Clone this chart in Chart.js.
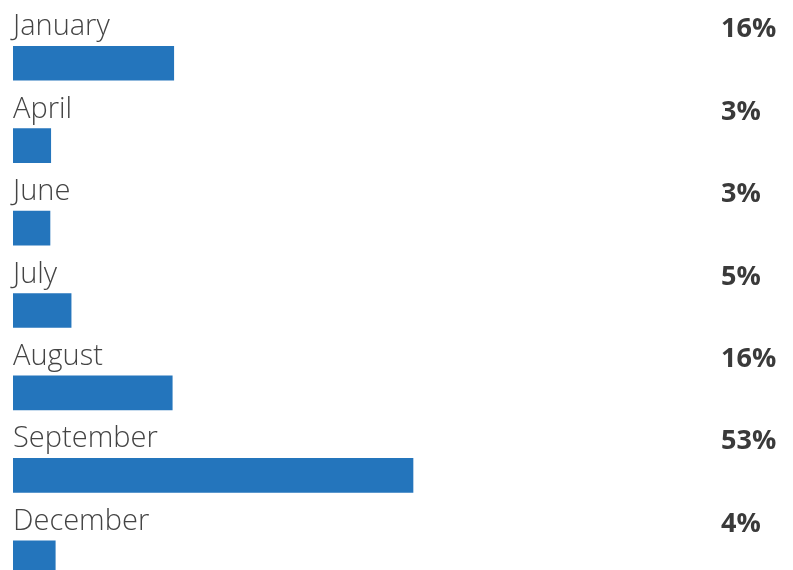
<!DOCTYPE html>
<html>
<head>
<meta charset="utf-8">
<script src="https://cdn.jsdelivr.net/npm/chart.js@4"></script>
<style>
  html, body { margin: 0; padding: 0; background: #fff; overflow: hidden; }
  #wrap { width: 793px; height: 570px; overflow: hidden; position: relative; }
  canvas { display: block; }
</style>
</head>
<body>
<div id="wrap"><canvas id="c" width="793" height="600"></canvas></div>
<script>
const categories = ["January", "April", "June", "July", "August", "September", "December"];
const barValues = [21.3, 5.0, 4.9, 7.7, 21.1, 53, 5.6];
const pctLabels = ["16%", "3%", "3%", "5%", "16%", "53%", "4%"];

const labelFont = '300 29px "Open Sans", sans-serif';
const pctFont = 'bold 27px "Open Sans", sans-serif';

const labelPlugin = {
  id: 'rowLabels',
  afterDatasetsDraw(chart) {
    const ctx = chart.ctx;
    const meta = chart.getDatasetMeta(0);
    ctx.save();
    meta.data.forEach((bar, i) => {
      const top = bar.y - bar.height / 2;
      ctx.textAlign = 'left';
      ctx.textBaseline = 'alphabetic';
      ctx.font = labelFont;
      ctx.fillStyle = '#444444';
      ctx.fillText(categories[i], 13, top - 11);
      ctx.font = pctFont;
      ctx.fillStyle = '#3a3a3a';
      ctx.fillText(pctLabels[i], 721, top - 9);
    });
    ctx.restore();
  }
};

new Chart(document.getElementById('c'), {
  type: 'bar',
  data: {
    labels: categories,
    datasets: [{
      data: barValues,
      backgroundColor: '#2475bc',
      borderWidth: 0,
      barThickness: 34
    }]
  },
  options: {
    indexAxis: 'y',
    responsive: false,
    animation: false,
    layout: { padding: { left: 13, right: 0, top: 22, bottom: 1 } },
    plugins: { legend: { display: false }, tooltip: { enabled: false } },
    scales: {
      x: { display: false, min: 0, max: 103.35 },
      y: { display: false }
    }
  },
  plugins: [labelPlugin]
});
</script>
</body>
</html>
